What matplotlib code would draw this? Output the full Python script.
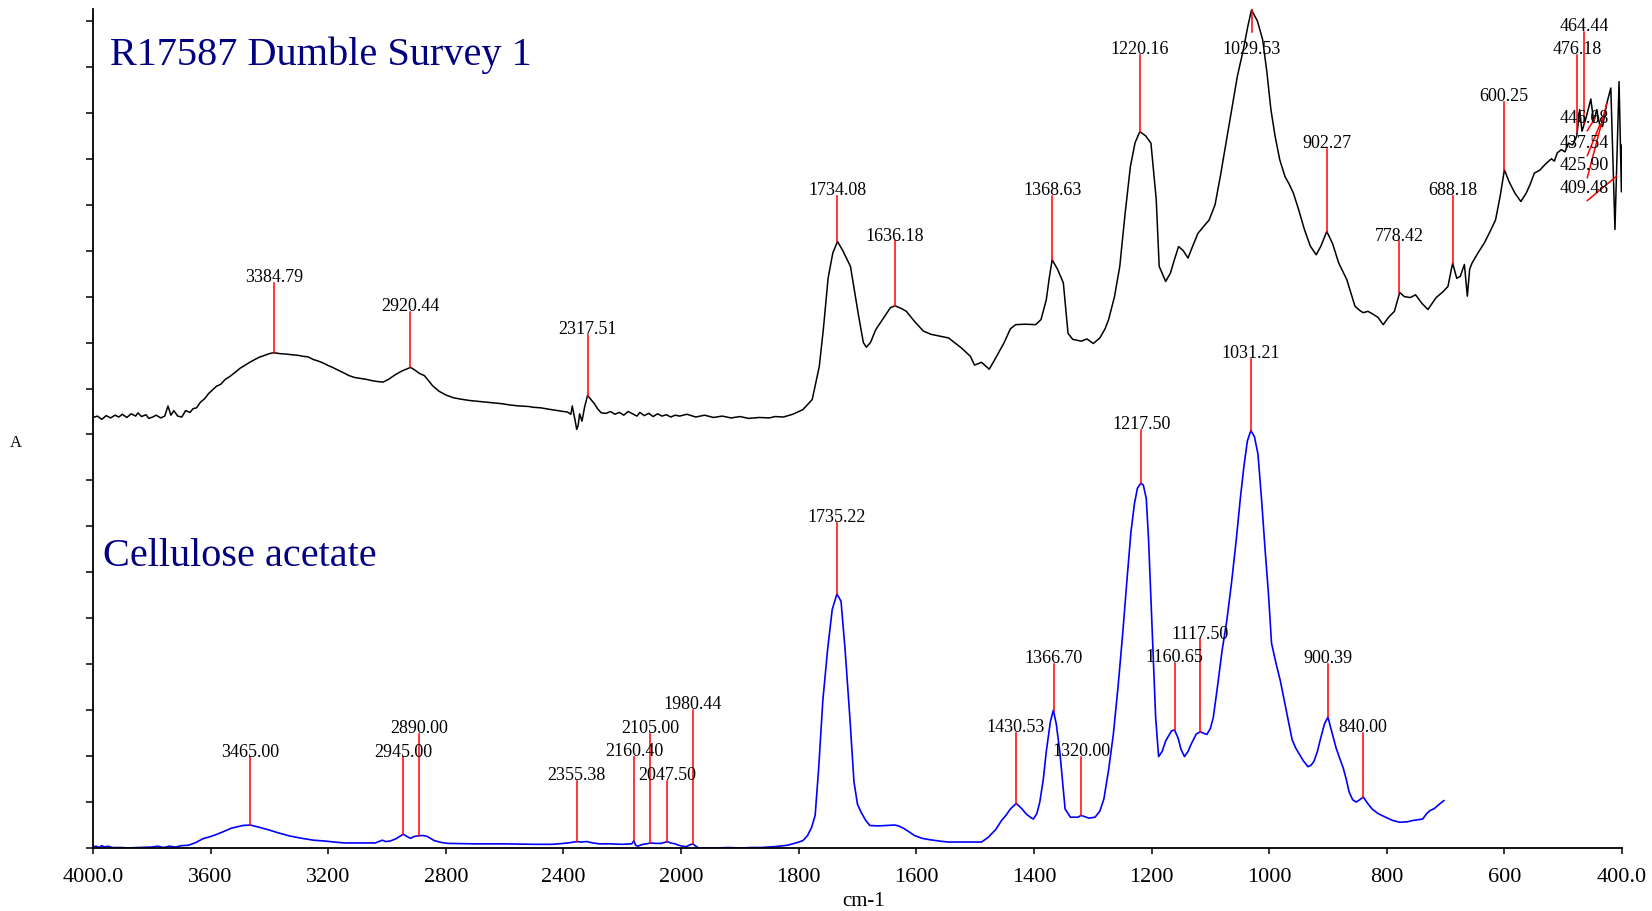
import numpy as np
import matplotlib.pyplot as plt

plt.rcParams['font.family'] = 'Liberation Serif'

# sample spectrum (black), wavenumber cm-1 / absorbance units
sample_wn = [4000, 3985, 3970, 3955, 3940, 3925, 3912, 3900, 3885, 3870, 3855, 3847, 3835, 3820,
             3810, 3797, 3785, 3770, 3756, 3745, 3735, 3725, 3712, 3698, 3685, 3670, 3660, 3648,
             3635, 3620, 3607, 3595, 3580, 3566, 3550, 3535, 3517, 3500, 3485, 3467, 3450, 3435,
             3417, 3400, 3385, 3365, 3345, 3330, 3318, 3300, 3285, 3269, 3250, 3235, 3219, 3200,
             3185, 3170, 3150, 3129, 3110, 3090, 3071, 3050, 3030, 3013, 2995, 2972, 2950, 2935,
             2920, 2905, 2890, 2873, 2860, 2845, 2823, 2800, 2775, 2750, 2720, 2690, 2660, 2642,
             2610, 2580, 2550, 2520, 2500, 2477, 2450, 2420, 2400, 2387, 2375, 2370, 2365, 2361,
             2355, 2350, 2345, 2337, 2328, 2318, 2305, 2295, 2283, 2271, 2255, 2240, 2225, 2210,
             2195, 2180, 2165, 2150, 2140, 2125, 2110, 2095, 2080, 2065, 2050, 2035, 2020, 2005,
             1990, 1975, 1960, 1945, 1930, 1915, 1900, 1885, 1867, 1850, 1840, 1826, 1810, 1793,
             1777, 1765, 1758, 1750, 1742, 1734, 1725, 1712, 1698, 1690, 1685, 1678, 1669, 1655,
             1644, 1636, 1625, 1617, 1603, 1588, 1575, 1560, 1545, 1538, 1523, 1508, 1501, 1489,
             1476, 1467, 1451, 1440, 1431, 1415, 1397, 1388, 1379, 1374, 1369, 1360, 1350, 1342,
             1334, 1319, 1310, 1299, 1288, 1279, 1273, 1263, 1254, 1245, 1236, 1228, 1220, 1210,
             1201, 1192, 1187, 1176, 1168, 1160, 1154, 1146, 1138, 1130, 1121, 1110, 1102, 1092,
             1083, 1074, 1064, 1054, 1044, 1036, 1030, 1020, 1011, 1004, 997, 990, 982, 973,
             966, 959, 950, 940, 930, 920, 912, 902, 892, 882, 868, 854, 846, 840,
             832, 825, 815, 806, 797, 787, 778, 770, 760, 751, 740, 730, 723, 716,
             705, 696, 688, 681, 675, 668, 663, 659, 655, 645, 634, 625, 615, 607,
             600, 592, 582, 572, 563, 556, 549, 540, 529, 520, 515, 510, 503, 497,
             491, 484, 477, 472, 468, 462, 458, 453, 448, 443, 438, 433, 426, 419,
             412, 405, 401, 400]
sample_abs = [9.37, 9.40, 9.33, 9.41, 9.36, 9.42, 9.38, 9.44, 9.37, 9.45, 9.40, 9.47, 9.39, 9.43,
              9.35, 9.38, 9.42, 9.36, 9.40, 9.62, 9.42, 9.52, 9.40, 9.38, 9.52, 9.48, 9.56, 9.58,
              9.70, 9.78, 9.89, 9.96, 10.05, 10.09, 10.20, 10.26, 10.35, 10.44, 10.50, 10.57, 10.63, 10.68,
              10.72, 10.76, 10.78, 10.76, 10.75, 10.74, 10.73, 10.72, 10.70, 10.69, 10.63, 10.60, 10.56, 10.50,
              10.46, 10.41, 10.35, 10.28, 10.24, 10.22, 10.20, 10.17, 10.15, 10.14, 10.20, 10.30, 10.38, 10.42,
              10.46, 10.40, 10.33, 10.28, 10.18, 10.06, 9.94, 9.86, 9.80, 9.77, 9.74, 9.72, 9.70, 9.69,
              9.67, 9.64, 9.62, 9.61, 9.59, 9.58, 9.55, 9.52, 9.50, 9.49, 9.44, 9.62, 9.45, 9.33,
              9.11, 9.20, 9.45, 9.29, 9.60, 9.85, 9.75, 9.67, 9.55, 9.47, 9.46, 9.50, 9.44, 9.48,
              9.42, 9.50, 9.45, 9.40, 9.48, 9.41, 9.46, 9.39, 9.45, 9.40, 9.43, 9.38, 9.42, 9.40,
              9.44, 9.38, 9.42, 9.37, 9.40, 9.36, 9.39, 9.35, 9.37, 9.36, 9.39, 9.38, 9.44, 9.54,
              9.76, 10.48, 11.30, 12.40, 12.95, 13.20, 13.00, 12.66, 11.57, 11.00, 10.90, 11.00, 11.28, 11.55,
              11.76, 11.80, 11.74, 11.68, 11.46, 11.25, 11.18, 11.14, 11.10, 11.03, 10.88, 10.70, 10.51, 10.57,
              10.42, 10.62, 10.99, 11.30, 11.39, 11.40, 11.39, 11.50, 11.93, 12.40, 12.80, 12.60, 12.30, 11.20,
              11.07, 11.03, 11.08, 10.98, 11.10, 11.30, 11.50, 12.00, 12.66, 13.80, 14.83, 15.35, 15.59, 15.50,
              15.34, 14.11, 12.66, 12.33, 12.51, 12.85, 13.09, 13.00, 12.84, 13.10, 13.38, 13.55, 13.67, 14.00,
              14.62, 15.30, 16.07, 16.80, 17.37, 17.90, 18.24, 18.00, 17.59, 16.90, 16.07, 15.50, 14.98, 14.61,
              14.45, 14.26, 13.90, 13.46, 13.10, 12.91, 13.10, 13.42, 13.15, 12.74, 12.37, 11.79, 11.70, 11.65,
              11.68, 11.63, 11.55, 11.39, 11.55, 11.68, 12.09, 12.00, 11.98, 12.04, 11.85, 11.72, 11.85, 11.98,
              12.10, 12.22, 12.73, 12.40, 12.44, 12.70, 12.01, 12.60, 12.73, 12.95, 13.17, 13.40, 13.67, 14.20,
              14.76, 14.50, 14.25, 14.07, 14.25, 14.45, 14.69, 14.75, 14.90, 15.00, 14.95, 15.13, 15.20, 15.15,
              15.34, 15.30, 15.49, 16.07, 15.60, 15.85, 16.05, 16.30, 15.80, 16.07, 15.75, 15.70, 16.20, 16.54,
              13.46, 16.68, 14.28, 15.30]

# reference spectrum (blue)
ref_wn = [4000, 3990, 3980, 3970, 3960, 3950, 3935, 3900, 3884, 3850, 3800, 3780, 3760, 3740,
          3720, 3700, 3675, 3650, 3627, 3600, 3578, 3555, 3530, 3510, 3490, 3465, 3434, 3400,
          3370, 3330, 3289, 3250, 3209, 3180, 3145, 3100, 3070, 3040, 3016, 3005, 2990, 2970,
          2955, 2945, 2932, 2920, 2908, 2890, 2875, 2863, 2850, 2839, 2815, 2792, 2700, 2600,
          2500, 2438, 2400, 2373, 2355, 2340, 2321, 2300, 2278, 2240, 2200, 2168, 2160, 2155,
          2147, 2130, 2118, 2105, 2085, 2068, 2047, 2035, 2020, 2008, 1998, 1991, 1985, 1980,
          1975, 1970, 1940, 1920, 1898, 1880, 1865, 1840, 1826, 1819, 1802, 1793, 1785, 1778,
          1772, 1766, 1759, 1751, 1743, 1735, 1728, 1721, 1713, 1706, 1700, 1694, 1686, 1679,
          1665, 1652, 1637, 1630, 1622, 1612, 1603, 1590, 1577, 1560, 1546, 1520, 1489, 1478,
          1465, 1455, 1447, 1440, 1430, 1421, 1413, 1405, 1401, 1395, 1390, 1384, 1379, 1372,
          1367, 1362, 1356, 1351, 1347, 1338, 1325, 1320, 1313, 1307, 1296, 1288, 1281, 1273,
          1265, 1257, 1249, 1242, 1235, 1229, 1224, 1218, 1214, 1209, 1205, 1201, 1197, 1193,
          1188, 1182, 1176, 1166, 1161, 1155, 1150, 1144, 1138, 1133, 1124, 1117, 1112, 1106,
          1100, 1095, 1088, 1080, 1072, 1064, 1056, 1049, 1043, 1037, 1031, 1025, 1019, 1013,
          1007, 1001, 996, 988, 981, 971, 961, 955, 950, 942, 934, 929, 924, 918,
          913, 906, 900, 895, 886, 880, 874, 869, 864, 858, 852, 846, 840, 833,
          825, 815, 802, 790, 778, 765, 755, 739, 732, 727, 719, 711, 703]
ref_abs = [0.02, 0.04, 0.01, 0.05, 0.02, 0.04, 0.01, 0.01, 0.00, 0.01, 0.02, 0.04, 0.01, 0.04,
           0.02, 0.05, 0.06, 0.12, 0.20, 0.25, 0.30, 0.36, 0.43, 0.46, 0.49, 0.50, 0.45, 0.39,
           0.33, 0.26, 0.21, 0.17, 0.15, 0.13, 0.11, 0.11, 0.11, 0.11, 0.17, 0.14, 0.15, 0.20,
           0.26, 0.30, 0.25, 0.21, 0.25, 0.27, 0.27, 0.25, 0.20, 0.16, 0.12, 0.10, 0.09, 0.09,
           0.08, 0.08, 0.10, 0.12, 0.14, 0.13, 0.14, 0.11, 0.09, 0.09, 0.08, 0.09, 0.16, 0.06,
           0.04, 0.08, 0.09, 0.11, 0.10, 0.10, 0.14, 0.11, 0.09, 0.06, 0.04, 0.03, 0.07, 0.09,
           0.04, 0.00, 0.00, 0.01, 0.00, 0.01, 0.01, 0.03, 0.05, 0.06, 0.12, 0.16, 0.27, 0.45,
           0.71, 1.74, 3.20, 4.30, 5.19, 5.53, 5.37, 4.30, 2.84, 1.44, 0.95, 0.78, 0.60, 0.49,
           0.48, 0.49, 0.50, 0.48, 0.43, 0.35, 0.27, 0.21, 0.18, 0.15, 0.13, 0.13, 0.13, 0.23,
           0.40, 0.60, 0.72, 0.85, 0.97, 0.86, 0.74, 0.66, 0.63, 0.75, 1.00, 1.50, 2.10, 2.75,
           3.00, 2.70, 2.10, 1.40, 0.85, 0.67, 0.67, 0.71, 0.68, 0.65, 0.67, 0.80, 1.07, 1.70,
           2.47, 3.50, 4.67, 5.80, 6.88, 7.50, 7.83, 7.94, 7.90, 7.61, 6.70, 5.41, 4.10, 2.84,
           1.99, 2.10, 2.33, 2.55, 2.57, 2.40, 2.15, 1.99, 2.10, 2.25, 2.48, 2.53, 2.50, 2.47,
           2.60, 2.84, 3.50, 4.30, 4.95, 5.77, 6.70, 7.61, 8.30, 8.86, 9.09, 8.95, 8.57, 7.60,
           6.51, 5.50, 4.46, 4.00, 3.64, 3.00, 2.36, 2.18, 2.07, 1.90, 1.77, 1.80, 1.88, 2.10,
           2.36, 2.70, 2.85, 2.60, 2.17, 1.95, 1.74, 1.50, 1.22, 1.05, 1.00, 1.05, 1.11, 0.98,
           0.85, 0.75, 0.67, 0.60, 0.56, 0.57, 0.60, 0.63, 0.75, 0.81, 0.86, 0.95, 1.03]

# picked peaks
sample_peaks = [3384.79, 2920.44, 2317.51, 1734.08, 1636.18, 1368.63, 1220.16, 1029.53,
                902.27, 778.42, 688.18, 600.25, 476.18, 464.44]
cluster_peaks = [446.68, 437.54, 425.90, 409.48]
ref_peaks = [3465.00, 2945.00, 2890.00, 2355.38, 2160.40, 2105.00, 2047.50, 1980.44,
             1735.22, 1430.53, 1366.70, 1320.00, 1217.50, 1160.65, 1117.50, 1031.21,
             900.39, 840.00]

# label rows (where each red marker stops)
sample_rows = [12.30, 11.67, 11.17, 14.20, 13.20, 14.20, 17.26, 17.26,
               15.22, 13.20, 14.20, 16.24, 17.26, 17.76]
sample_line_ends = [12.30, 11.67, 11.17, 14.20, 13.20, 14.20, 17.26, 17.76,
                    15.22, 13.20, 14.20, 16.24, 17.26, 17.76]
cluster_rows = [15.76, 15.22, 14.74, 14.24]
ref_rows = [1.97, 1.97, 2.49, 1.46, 1.98, 2.49, 1.46, 3.00,
            7.08, 2.51, 4.01, 1.99, 9.10, 4.03, 4.54, 10.64, 4.01, 2.51]

xticks = [4000, 3600, 3200, 2800, 2400, 2000, 1800, 1600, 1400, 1200, 1000, 800, 600, 400]
xticklabels = ['4000.0', '3600', '3200', '2800', '2400', '2000', '1800', '1600', '1400',
               '1200', '1000', '800', '600', '400.0']


def fwd(x):
    x = np.asarray(x, dtype=float)
    return np.where(x > 2000, 2000 + (x - 2000) / 2, x)


def inv(x):
    x = np.asarray(x, dtype=float)
    return np.where(x > 2000, 2000 + (x - 2000) * 2, x)


def curve_at(wn, xs, ys):
    return np.interp(wn, xs[::-1], ys[::-1])


fig = plt.figure(figsize=(16.52, 9.12), dpi=100)
ax = fig.add_axes([93 / 1652, 1 - 849 / 912, (1622 - 93) / 1652, (849 - 10) / 912])
ax.set_xscale('function', functions=(fwd, inv))
ax.set_xlim(4000, 400)
ax.set_ylim(0, 18.26)

sx, sy = np.array(sample_wn), np.array(sample_abs)
rx, ry = np.array(ref_wn), np.array(ref_abs)
ax.plot(sx, sy, color='black', lw=1.1)
ax.plot(rx, ry, color='#0000FF', lw=1.2)

lab_kw = dict(textcoords='offset points', xytext=(0, 1.3), ha='center', va='baseline',
              fontsize=13)

for wn, row, end in zip(sample_peaks, sample_rows, sample_line_ends):
    ax.plot([wn, wn], [curve_at(wn, sx, sy), end], color='#FF0000', lw=1.1)
    ax.annotate(f'{wn:.2f}', xy=(wn, row), **lab_kw)

for wn, row in zip(cluster_peaks, cluster_rows):
    ax.plot([459, wn], [row - 0.15, curve_at(wn, sx, sy)], color='#FF0000', lw=1.1)
    ax.annotate(f'{wn:.2f}', xy=(464, row), **lab_kw)

for wn, row in zip(ref_peaks, ref_rows):
    ax.plot([wn, wn], [curve_at(wn, rx, ry), row], color='#FF0000', lw=1.1)
    ax.annotate(f'{wn:.2f}', xy=(wn, row), **lab_kw)

ax.set_xticks(xticks)
ax.set_xticklabels(xticklabels)
ax.xaxis.set_minor_locator(plt.NullLocator())
ax.set_yticks(np.arange(0, 19))
ax.set_yticklabels([])
ax.tick_params(axis='x', direction='out', length=4.5, width=1.1, pad=9, labelsize=16)
ax.tick_params(axis='y', direction='out', length=5, width=1.1)
for side in ['top', 'right']:
    ax.spines[side].set_visible(False)
for side in ['left', 'bottom']:
    ax.spines[side].set_linewidth(1.3)

fig.text(110 / 1652, 1 - 65 / 912, 'R17587 Dumble Survey 1', color='#000080',
         fontsize=29, va='baseline', ha='left')
fig.text(103 / 1652, 1 - 566 / 912, 'Cellulose acetate', color='#000080',
         fontsize=29, va='baseline', ha='left')
fig.text(16 / 1652, 1 - 443 / 912, 'A', fontsize=12, ha='center', va='center')
fig.text(864 / 1652, 1 - 902 / 912, 'cm-1', fontsize=15, ha='center', va='center')

fig.savefig('out.png', dpi=100)
